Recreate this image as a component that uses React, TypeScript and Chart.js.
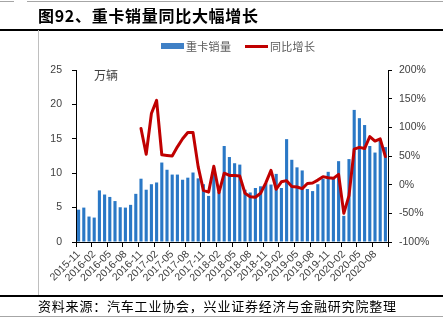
import React, { useEffect, useRef } from 'react';
import { Chart, registerables } from 'chart.js';

Chart.register(...registerables);

const months = [
  '2015-11', '2015-12', '2016-01', '2016-02', '2016-03', '2016-04', '2016-05', '2016-06', '2016-07', '2016-08',
  '2016-09', '2016-10', '2016-11', '2016-12', '2017-01', '2017-02', '2017-03', '2017-04', '2017-05', '2017-06',
  '2017-07', '2017-08', '2017-09', '2017-10', '2017-11', '2017-12', '2018-01', '2018-02', '2018-03', '2018-04',
  '2018-05', '2018-06', '2018-07', '2018-08', '2018-09', '2018-10', '2018-11', '2018-12', '2019-01', '2019-02',
  '2019-03', '2019-04', '2019-05', '2019-06', '2019-07', '2019-08', '2019-09', '2019-10', '2019-11', '2019-12',
  '2020-01', '2020-02', '2020-03', '2020-04', '2020-05', '2020-06', '2020-07', '2020-08', '2020-09', '2020-10',
];

// 重卡销量（万辆）
const sales = [
  4.7, 5.0, 3.7, 3.55, 7.5, 6.9, 6.55, 5.95, 5.05, 5.0,
  5.4, 7.0, 9.2, 7.6, 8.4, 8.65, 11.55, 10.5, 9.8, 9.8,
  9.05, 9.35, 10.1, 9.25, 8.4, 6.7, 10.8, 7.3, 13.95, 12.35,
  11.45, 11.25, 7.6, 7.2, 7.85, 8.1, 8.55, 8.35, 9.9, 7.85,
  14.95, 11.95, 10.85, 10.4, 7.7, 7.4, 8.4, 9.2, 10.2, 9.35,
  11.75, 3.8, 12.05, 19.2, 18.0, 17.0, 13.95, 13.0, 14.9, 13.8,
];

// 同比增长（%）
const growth = [
  null, null, null, null, null, null, null, null, null, null,
  null, null, 98, 53, 124, 147, 52, 51, 50, 66,
  80, 91, 91, 31, -10, -13, 32, -14, 20, 16,
  16, 15, -15, -21, -22, -15, 3, 25, -8, 5,
  7, -3, -4, -7, 2, 3, 8, 14, 12, 11,
  18, -50, -19, 62, 65, 63, 84, 76, 80, 49,
];

const leftTicks = [0, 5, 10, 15, 20, 25];
const rightTicks = [-100, -50, 0, 50, 100, 150, 200];

const seriesNames = ['重卡销量', '同比增长'];
const titleText = '图92、重卡销量同比大幅增长';
const sourceText = '资料来源：汽车工业协会，兴业证券经济与金融研究院整理';
const unitText = '万辆';

const tickFont = { family: '"Liberation Sans", Arial, sans-serif', size: 10.5 };
const tickColor = '#404040';
const cjk = '"Noto Sans CJK SC", "Noto Sans", sans-serif';

export default function App() {
  const canvasRef = useRef<HTMLCanvasElement | null>(null);

  useEffect(() => {
    const canvas = canvasRef.current;
    if (!canvas) return;
    const chart = new Chart(canvas, {
      type: 'bar',
      data: {
        labels: months,
        datasets: [
          {
            type: 'bar',
            label: seriesNames[0],
            data: sales,
            backgroundColor: '#2A78C6',
            borderWidth: 0,
            barPercentage: 0.6,
            categoryPercentage: 1,
            yAxisID: 'y',
            order: 2,
          },
          {
            type: 'line',
            label: seriesNames[1],
            data: growth as any,
            borderColor: '#C00000',
            borderWidth: 3,
            pointRadius: 0,
            tension: 0,
            borderJoinStyle: 'round',
            borderCapStyle: 'round',
            fill: false,
            yAxisID: 'y1',
            order: 1,
          },
        ],
      },
      options: {
        responsive: false,
        animation: false,
        devicePixelRatio: 1,
        layout: { padding: { top: 70, left: 0, right: 0, bottom: 29 } },
        plugins: { legend: { display: false }, tooltip: { enabled: false }, title: { display: false } },
        scales: {
          x: {
            type: 'category',
            offset: true,
            grid: {
              offset: true,
              drawOnChartArea: false,
              drawTicks: true,
              tickLength: 5,
              color: '#000',
              tickColor: (ctx: any) => (ctx.index === undefined || ctx.index % 3 === 0 ? '#000' : 'rgba(0,0,0,0)'),
            },
            border: { display: true, color: '#000', width: 1 },
            ticks: {
              autoSkip: false,
              minRotation: 45,
              maxRotation: 45,
              padding: 1,
              color: tickColor,
              font: tickFont,
              callback: (_v: any, i: number) => (i % 3 === 0 ? months[i] : ''),
            },
            afterFit: (s: any) => {
              s.height = 50;
            },
          },
          y: {
            position: 'left',
            min: leftTicks[0],
            max: leftTicks[leftTicks.length - 1],
            afterBuildTicks: (s: any) => {
              s.ticks = leftTicks.map((v) => ({ value: v }));
            },
            grid: { drawOnChartArea: false, drawTicks: true, tickLength: 4, tickColor: '#000' },
            border: { display: true, color: '#000', width: 1 },
            ticks: { padding: 10, color: tickColor, font: tickFont },
            afterFit: (s: any) => {
              s.width = 76;
            },
          },
          y1: {
            position: 'right',
            min: rightTicks[0],
            max: rightTicks[rightTicks.length - 1],
            afterBuildTicks: (s: any) => {
              s.ticks = rightTicks.map((v) => ({ value: v }));
            },
            grid: { drawOnChartArea: false, drawTicks: true, tickLength: 4, tickColor: '#000' },
            border: { display: true, color: '#000', width: 1 },
            ticks: { padding: 7, color: tickColor, font: tickFont, callback: (v: any) => v + '%' },
            afterFit: (s: any) => {
              s.width = 55;
            },
          },
        },
      },
    });
    return () => chart.destroy();
  }, []);

  const abs = (o: React.CSSProperties): React.CSSProperties => ({ position: 'absolute', ...o });

  return (
    <div style={abs({ left: 0, top: 0, width: 443, height: 321, background: '#fff', overflow: 'hidden' })}>
      <canvas ref={canvasRef} width={443} height={321} style={abs({ left: 0, top: 0, width: 443, height: 321 })} />
      {/* frame lines */}
      <div style={abs({ left: 0, top: 1, width: 14, height: 1, background: '#A6A6A6' })} />
      <div style={abs({ left: 27, top: 1, width: 416, height: 1, background: '#A6A6A6' })} />
      <div style={abs({ left: 0, top: 29, width: 443, height: 1.5, background: '#000' })} />
      <div style={abs({ left: 38, top: 30, width: 1, height: 265, background: '#BFBFBF' })} />
      <div style={abs({ left: 0, top: 295, width: 443, height: 1.5, background: '#000' })} />
      <div style={abs({ left: 0, top: 316, width: 443, height: 1, background: '#A6A6A6' })} />
      {/* title */}
      <div
        style={abs({
          left: 38,
          top: 5,
          fontFamily: cjk,
          fontWeight: 700,
          fontSize: 16,
          lineHeight: '20px',
          letterSpacing: 0.7,
          color: '#000',
          whiteSpace: 'nowrap',
        })}
      >
        {titleText}
      </div>
      {/* legend */}
      <div style={abs({ left: 161, top: 43, width: 23, height: 6, background: '#3F80C6' })} />
      <div style={abs({ left: 186, top: 38, fontFamily: cjk, fontSize: 11, lineHeight: '16px', color: '#595959', whiteSpace: 'nowrap', letterSpacing: 0.3 })}>
        {seriesNames[0]}
      </div>
      <div style={abs({ left: 245, top: 45, width: 23, height: 2.5, background: '#C00000' })} />
      <div style={abs({ left: 270, top: 38, fontFamily: cjk, fontSize: 11, lineHeight: '16px', color: '#595959', whiteSpace: 'nowrap', letterSpacing: 0.3 })}>
        {seriesNames[1]}
      </div>
      {/* unit */}
      <div style={abs({ left: 94, top: 67, fontFamily: cjk, fontSize: 12, lineHeight: '16px', color: '#404040', whiteSpace: 'nowrap' })}>
        {unitText}
      </div>
      {/* source */}
      <div
        style={abs({
          left: 38,
          top: 297,
          fontFamily: cjk,
          fontSize: 13,
          lineHeight: '17px',
          letterSpacing: 0.8,
          color: '#000',
          whiteSpace: 'nowrap',
        })}
      >
        {sourceText}
      </div>
    </div>
  );
}
